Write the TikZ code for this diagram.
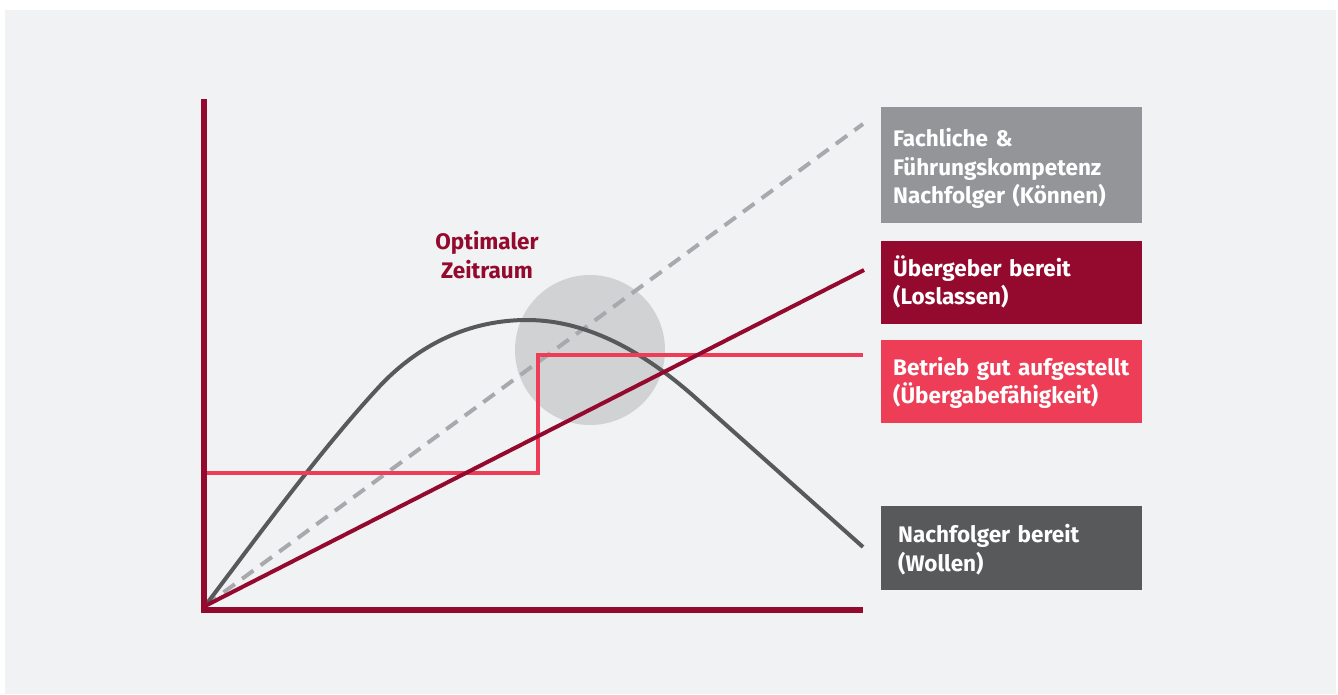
\documentclass[tikz,border=0pt]{standalone}
\usepackage{fontspec}
\setmainfont{Fira Sans}
\usepackage{tikz}
\usetikzlibrary{positioning,calc}

\definecolor{canvas}{HTML}{F1F2F4}
\definecolor{wine}{HTML}{940A2E}
\definecolor{rose}{HTML}{EE3D56}
\definecolor{stone}{HTML}{939598}
\definecolor{slate}{HTML}{58595B}
\definecolor{mist}{HTML}{D1D2D4}
\definecolor{ash}{HTML}{A7A9AC}

\newcommand{\legendfont}{\fontsize{22.5}{28.5}\selectfont\bfseries}

\tikzset{
    %Define style for the window label
    tag/.style={
           align=center,
           text=wine,
           font=\legendfont,
           inner sep=0pt},
    %Define style for legend boxes
    legend/.style={
           anchor=north west,
           minimum width=261pt,
           text width=237pt,
           inner xsep=12pt,
           inner ysep=0pt,
           align=left,
           text=white,
           font=\legendfont},
    % Define line style
    graph/.style={
           line width=4pt}
}

\begin{document}
\begin{tikzpicture}[x=1pt,y=-1pt]
	% canvas
	\useasboundingbox (0,0) rectangle (1338,695);
	\fill[white] (0,0) rectangle (1338,695);
	\fill[canvas] (5,10) rectangle (1336,694);

	% anchor points
	\coordinate (origin) at (205,606);
	\coordinate (y-end) at (204,99);
	\coordinate (corner) at (204,610);
	\coordinate (x-end) at (863,610);
	\coordinate (koennen-end) at (863,124);
	\coordinate (loslassen-end) at (864,270);
	\coordinate (wollen-end) at (863,547);
	\coordinate (step-start) at (204,473);
	\coordinate (step-low) at (538,473);
	\coordinate (step-high) at (538,355);
	\coordinate (step-end) at (863,355);

	% optimal window
	\fill[mist] (590,350) circle[radius=75pt];
	\node[tag] (window-name) at (487,255) {Optimaler\\Zeitraum};

	% skills
	\draw[graph, ash, dash pattern=on 14pt off 9pt] (origin) -- (koennen-end);

	% successor ready
	\draw[graph, slate] (origin) .. controls (264,528) and (320,451) .. (378,388)
	      .. controls (412,351) and (462,320) .. (527,320)
	      .. controls (590,320) and (648,355) .. (698,400) -- (wollen-end);

	% company set up
	\draw[graph, rose, line join=miter] (step-start) -- (step-low) -- (step-high) -- (step-end);

	% handover ready
	\draw[graph, wine] (origin) -- (loslassen-end);

	% axes
	\draw[line width=6pt, wine, line join=miter] (y-end) -- (corner) -- (x-end);

	% legend
	\node[legend, fill=stone, minimum height=116pt] (box-koennen) at (881,107)
	     {\rule{0pt}{25pt}Fachliche \&\\Führungskompetenz\\Nachfolger (Können)};
	\node[legend, fill=wine, minimum height=83pt, below=17pt of box-koennen.south west, anchor=north west] (box-loslassen)
	     {Übergeber bereit\\(Loslassen)};
	\node[legend, fill=rose, minimum height=83pt, below=16pt of box-loslassen.south west, anchor=north west] (box-betrieb)
	     {\rule{0pt}{21pt}\mbox{Betrieb gut aufgestellt}\\(Übergabefähigkeit)};
	\node[legend, fill=slate, minimum height=84pt, inner xsep=17pt, text width=227pt, below=83pt of box-betrieb.south west, anchor=north west] (box-wollen)
	     {\rule{0pt}{21pt}Nachfolger bereit\\(Wollen)};
\end{tikzpicture}
\end{document}
